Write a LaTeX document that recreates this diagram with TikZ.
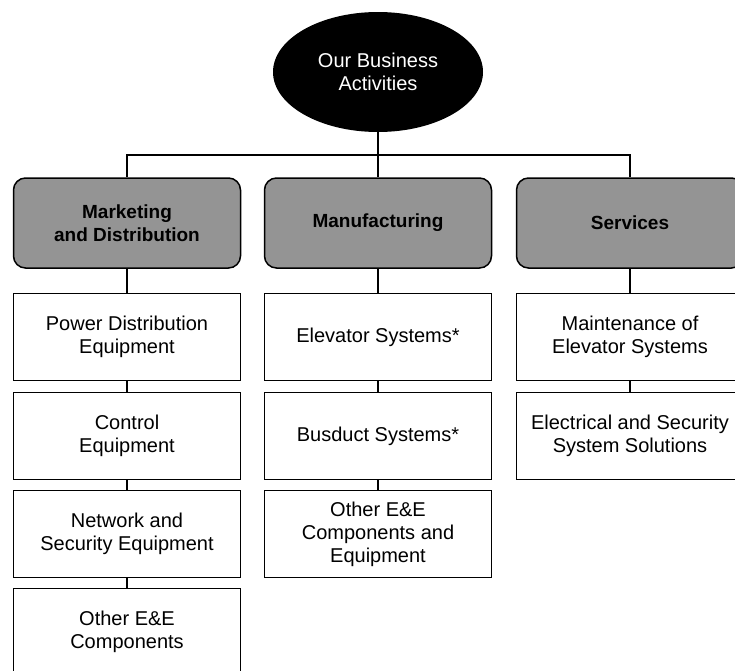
\documentclass[tikz,border=0pt]{standalone}
\usepackage{fontspec}
\setmainfont{Liberation Sans}
\usetikzlibrary{positioning,shapes.geometric}

\begin{document}
\begin{tikzpicture}[x=1pt,y=-1pt,
    every node/.style={font=\fontsize{20}{23}\selectfont,align=center},
    root/.style={ellipse,fill=black,text=white,minimum width=210pt,minimum height=120pt,inner sep=0pt},
    area/.style={draw,line width=1.5pt,rounded corners=12pt,fill=black!42,
                 minimum width=227pt,minimum height=90pt,font=\fontsize{19}{23}\selectfont\bfseries},
    item/.style={draw,line width=1.5pt,minimum width=227pt,minimum height=87pt,inner sep=2pt},
    link/.style={line width=1.5pt}
   ]
    \path[use as bounding box,clip] (0,0) rectangle (735,670);

    \node[root] (root) at (378,72) {Our Business\\Activities};
    \coordinate (bus) at (378,155);

    % the three areas
    \node[area] (mkt) at (127,223) {Marketing\\and Distribution};
    \node[area] (mfg) at (378,223) {Manufacturing};
    \node[area] (svc) at (630,223) {Services};

    % marketing and distribution
    \node[item] (pde) at (127,337) {Power Distribution\\Equipment};
    \node[item] (ctl) at (127,436) {Control\\Equipment};
    \node[item] (net) at (127,534) {Network and\\Security Equipment};
    \node[item] (oth) at (127,632) {Other E\&E\\Components};

    % manufacturing
    \node[item] (elv) at (378,337) {Elevator Systems*};
    \node[item] (bsd) at (378,436) {Busduct Systems*};
    \node[item] (oce) at (378,534) {Other E\&E\\Components and\\Equipment};

    % services
    \node[item] (mnt) at (630,337) {Maintenance of\\Elevator Systems};
    \node[item] (ess) at (630,436) {Electrical and Security\\System Solutions};

    \draw[link] (root) -- (bus);
    \draw[link] (mkt.north) |- (bus) -| (svc.north);
    \draw[link] (bus) -- (mfg.north);

    \draw[link] (mkt) -- (pde);
    \draw[link] (pde) -- (ctl);
    \draw[link] (ctl) -- (net);
    \draw[link] (net) -- (oth);

    \draw[link] (mfg) -- (elv);
    \draw[link] (elv) -- (bsd);
    \draw[link] (bsd) -- (oce);

    \draw[link] (svc) -- (mnt);
    \draw[link] (mnt) -- (ess);
\end{tikzpicture}
\end{document}
